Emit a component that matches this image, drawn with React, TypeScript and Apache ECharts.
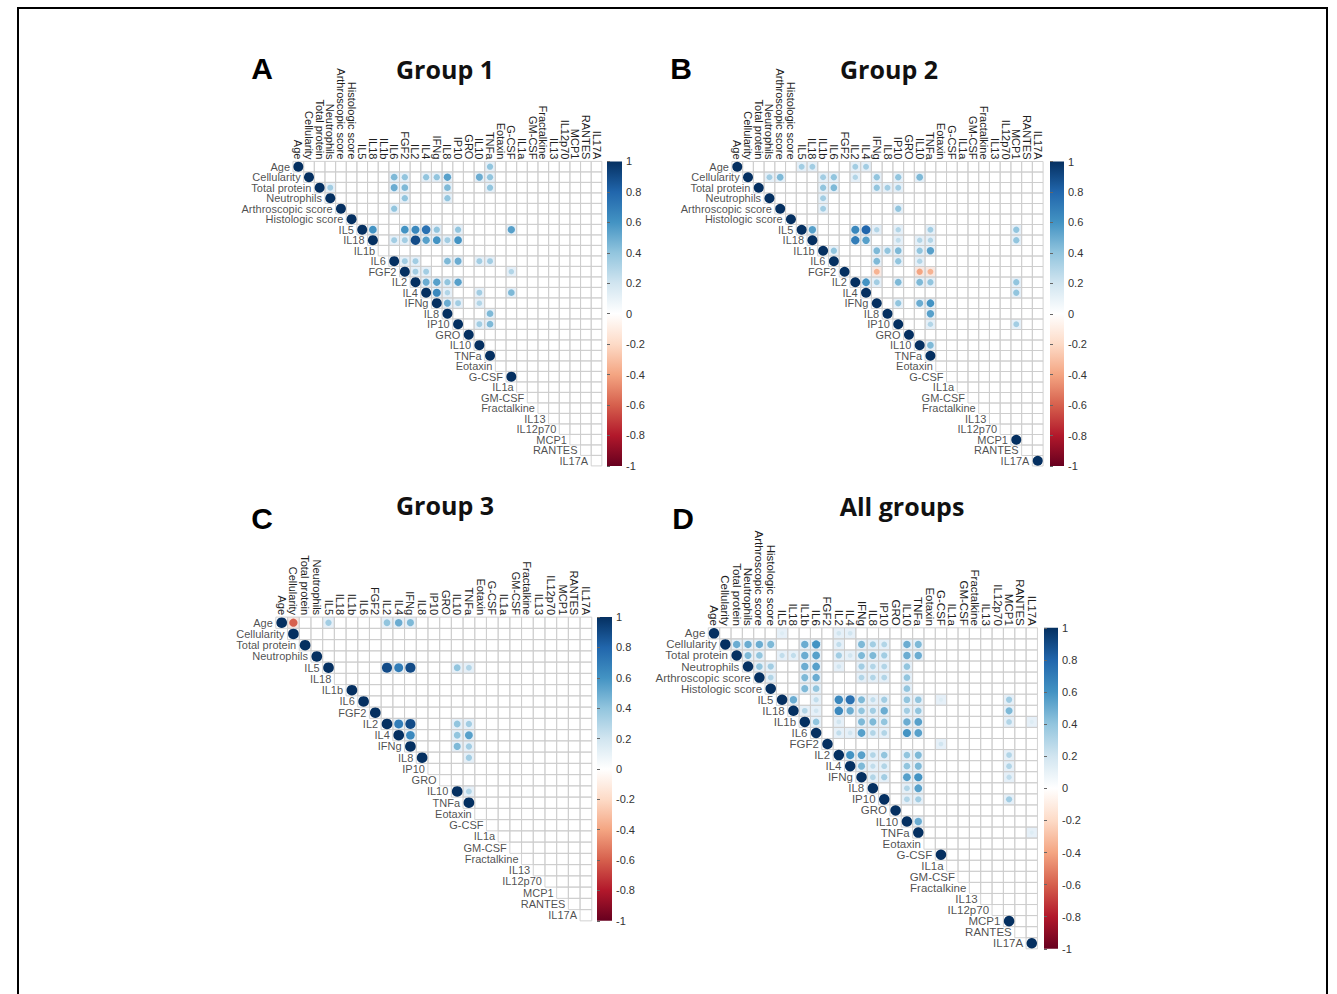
import React, { useEffect, useRef } from "react";
import * as echarts from "echarts";

// ---------- variables (axis categories) ----------
const variablesAll = ["Age", "Cellularity", "Total protein", "Neutrophils", "Arthroscopic score", "Histologic score", "IL5", "IL18", "IL1b", "IL6", "FGF2", "IL2", "IL4", "IFNg", "IL8", "IP10", "GRO", "IL10", "TNFa", "Eotaxin", "G-CSF", "IL1a", "GM-CSF", "Fractalkine", "IL13", "IL12p70", "MCP1", "RANTES", "IL17A"];
const variablesGroup3 = ["Age", "Cellularity", "Total protein", "Neutrophils", "IL5", "IL18", "IL1b", "IL6", "FGF2", "IL2", "IL4", "IFNg", "IL8", "IP10", "GRO", "IL10", "TNFa", "Eotaxin", "G-CSF", "IL1a", "GM-CSF", "Fractalkine", "IL13", "IL12p70", "MCP1", "RANTES", "IL17A"];

// ---------- diagonal entries shown (r = 1) ----------
const group1Diagonal = ["Age", "Cellularity", "Total protein", "Neutrophils", "Arthroscopic score", "Histologic score", "IL5", "IL18", "IL6", "FGF2", "IL2", "IL4", "IFNg", "IL8", "IP10", "GRO", "IL10", "TNFa", "G-CSF"];
const group2Diagonal = ["Age", "Cellularity", "Total protein", "Neutrophils", "Arthroscopic score", "Histologic score", "IL5", "IL18", "IL1b", "IL6", "FGF2", "IL2", "IL4", "IFNg", "IL8", "IP10", "GRO", "IL10", "TNFa", "MCP1", "IL17A"];
const group3Diagonal = ["Age", "Cellularity", "Total protein", "Neutrophils", "IL5", "IL1b", "IL6", "FGF2", "IL2", "IL4", "IFNg", "IL8", "IL10", "TNFa"];
const allGroupsDiagonal = ["Age", "Cellularity", "Total protein", "Neutrophils", "Arthroscopic score", "Histologic score", "IL5", "IL18", "IL1b", "IL6", "FGF2", "IL2", "IL4", "IFNg", "IL8", "IP10", "GRO", "IL10", "TNFa", "G-CSF", "MCP1", "IL17A"];

// ---------- significant correlations [row, column, r] ----------
const group1Corr: [string, string, number][] = [
  ["Age", "TNFa", 0.4],
  ["Cellularity", "IL6", 0.45], ["Cellularity", "FGF2", 0.4], ["Cellularity", "IL4", 0.4], ["Cellularity", "IFNg", 0.4], ["Cellularity", "IL8", 0.55], ["Cellularity", "IL10", 0.5], ["Cellularity", "TNFa", 0.4],
  ["Total protein", "Neutrophils", 0.35], ["Total protein", "IL6", 0.5], ["Total protein", "FGF2", 0.45], ["Total protein", "IL8", 0.45], ["Total protein", "TNFa", 0.4],
  ["Neutrophils", "FGF2", 0.4], ["Neutrophils", "IL8", 0.4],
  ["Arthroscopic score", "IL6", 0.4],
  ["IL5", "IL18", 0.6], ["IL5", "FGF2", 0.6], ["IL5", "IL2", 0.65], ["IL5", "IL4", 0.75], ["IL5", "IFNg", 0.4], ["IL5", "IP10", 0.4], ["IL5", "G-CSF", 0.55],
  ["IL18", "IL6", 0.35], ["IL18", "FGF2", 0.35], ["IL18", "IL2", 0.9], ["IL18", "IL4", 0.55], ["IL18", "IFNg", 0.6], ["IL18", "IL8", 0.35], ["IL18", "IP10", 0.6],
  ["IL6", "FGF2", 0.35], ["IL6", "IL2", 0.35], ["IL6", "IL8", 0.45], ["IL6", "IP10", 0.5], ["IL6", "IL10", 0.35], ["IL6", "TNFa", 0.35],
  ["FGF2", "IL2", 0.35], ["FGF2", "IL4", 0.35], ["FGF2", "G-CSF", 0.3],
  ["IL2", "IL4", 0.5], ["IL2", "IFNg", 0.55], ["IL2", "IL8", 0.4], ["IL2", "IP10", 0.55],
  ["IL4", "IFNg", 0.65], ["IL4", "IL8", 0.3], ["IL4", "IL10", 0.35], ["IL4", "G-CSF", 0.45],
  ["IFNg", "IL8", 0.5], ["IFNg", "IP10", 0.35], ["IFNg", "IL10", 0.3],
  ["IL8", "TNFa", 0.45],
  ["IP10", "IL10", 0.35], ["IP10", "TNFa", 0.45],
];

const group2Corr: [string, string, number][] = [
  ["Age", "IL5", 0.35], ["Age", "IL18", 0.35], ["Age", "IL2", 0.35], ["Age", "IL4", 0.35],
  ["Cellularity", "Neutrophils", 0.35], ["Cellularity", "Arthroscopic score", 0.45], ["Cellularity", "IL1b", 0.35], ["Cellularity", "IL6", 0.4], ["Cellularity", "IL2", 0.3], ["Cellularity", "IFNg", 0.4], ["Cellularity", "IP10", 0.4], ["Cellularity", "IL10", 0.45],
  ["Total protein", "IL1b", 0.4], ["Total protein", "IL6", 0.45], ["Total protein", "IFNg", 0.4], ["Total protein", "IL8", 0.35], ["Total protein", "IP10", 0.35],
  ["Neutrophils", "IL1b", 0.35],
  ["Arthroscopic score", "IL1b", 0.35], ["Arthroscopic score", "IP10", 0.4],
  ["IL5", "IL18", 0.55], ["IL5", "IL2", 0.65], ["IL5", "IL4", 0.8], ["IL5", "IFNg", 0.3], ["IL5", "IP10", 0.3], ["IL5", "TNFa", 0.35], ["IL5", "MCP1", 0.4],
  ["IL18", "IL2", 0.7], ["IL18", "IL4", 0.55], ["IL18", "IP10", 0.25], ["IL18", "IL10", 0.3], ["IL18", "TNFa", 0.3], ["IL18", "MCP1", 0.4],
  ["IL1b", "IL6", 0.4], ["IL1b", "IFNg", 0.45], ["IL1b", "IL8", 0.4], ["IL1b", "IP10", 0.45], ["IL1b", "IL10", 0.4], ["IL1b", "TNFa", 0.55],
  ["IL6", "IFNg", 0.45], ["IL6", "IP10", 0.4], ["IL6", "IL10", 0.3],
  ["FGF2", "IFNg", -0.35], ["FGF2", "IL10", -0.4], ["FGF2", "TNFa", -0.35],
  ["IL2", "IL4", 0.6], ["IL2", "IFNg", 0.35], ["IL2", "IP10", 0.45], ["IL2", "IL10", 0.45], ["IL2", "TNFa", 0.4], ["IL2", "MCP1", 0.4],
  ["IL4", "MCP1", 0.4],
  ["IFNg", "IP10", 0.4], ["IFNg", "IL10", 0.5], ["IFNg", "TNFa", 0.6],
  ["IL8", "TNFa", 0.55],
  ["IP10", "TNFa", 0.3], ["IP10", "MCP1", 0.35],
  ["IL10", "TNFa", 0.45],
];

const group3Corr: [string, string, number][] = [
  ["Age", "Cellularity", -0.6], ["Age", "IL5", 0.35], ["Age", "IL2", 0.4], ["Age", "IL4", 0.5], ["Age", "IFNg", 0.45],
  ["IL5", "IL2", 0.9], ["IL5", "IL4", 0.7], ["IL5", "IFNg", 0.9], ["IL5", "IL10", 0.4], ["IL5", "TNFa", 0.3],
  ["IL2", "IL4", 0.7], ["IL2", "IFNg", 0.9], ["IL2", "IL10", 0.4], ["IL2", "TNFa", 0.35],
  ["IL4", "IFNg", 0.65], ["IL4", "IL10", 0.4], ["IL4", "TNFa", 0.55],
  ["IFNg", "IL10", 0.45], ["IFNg", "TNFa", 0.35],
  ["IL8", "TNFa", 0.35],
  ["IL10", "TNFa", 0.3],
];

const allGroupsCorr: [string, string, number][] = [
  ["Age", "IL5", 0.15], ["Age", "IL2", 0.2], ["Age", "IL4", 0.2],
  ["Cellularity", "Total protein", 0.5], ["Cellularity", "Neutrophils", 0.5], ["Cellularity", "Arthroscopic score", 0.5], ["Cellularity", "Histologic score", 0.45], ["Cellularity", "IL1b", 0.5], ["Cellularity", "IL6", 0.6], ["Cellularity", "IL2", 0.25], ["Cellularity", "IFNg", 0.45], ["Cellularity", "IL8", 0.35], ["Cellularity", "IP10", 0.3], ["Cellularity", "IL10", 0.5], ["Cellularity", "TNFa", 0.45],
  ["Total protein", "Neutrophils", 0.45], ["Total protein", "Arthroscopic score", 0.4], ["Total protein", "IL5", 0.25], ["Total protein", "IL18", 0.25], ["Total protein", "IL1b", 0.5], ["Total protein", "IL6", 0.55], ["Total protein", "IL2", 0.35], ["Total protein", "IL4", 0.2], ["Total protein", "IFNg", 0.45], ["Total protein", "IL8", 0.45], ["Total protein", "IP10", 0.35], ["Total protein", "IL10", 0.5], ["Total protein", "TNFa", 0.5],
  ["Neutrophils", "Arthroscopic score", 0.4], ["Neutrophils", "Histologic score", 0.35], ["Neutrophils", "IL1b", 0.5], ["Neutrophils", "IL6", 0.55], ["Neutrophils", "IL2", 0.2], ["Neutrophils", "IFNg", 0.35], ["Neutrophils", "IL8", 0.3], ["Neutrophils", "IP10", 0.3], ["Neutrophils", "IL10", 0.4],
  ["Arthroscopic score", "Histologic score", 0.3], ["Arthroscopic score", "IL1b", 0.45], ["Arthroscopic score", "IL6", 0.5], ["Arthroscopic score", "IFNg", 0.3], ["Arthroscopic score", "IL8", 0.3], ["Arthroscopic score", "IP10", 0.3], ["Arthroscopic score", "IL10", 0.4],
  ["Histologic score", "IL1b", 0.45], ["Histologic score", "IL6", 0.4], ["Histologic score", "IL10", 0.4],
  ["IL5", "IL18", 0.5], ["IL5", "IL6", 0.25], ["IL5", "IL2", 0.65], ["IL5", "IL4", 0.75], ["IL5", "IFNg", 0.45], ["IL5", "IL8", 0.25], ["IL5", "IP10", 0.35], ["IL5", "IL10", 0.4], ["IL5", "TNFa", 0.4], ["IL5", "G-CSF", 0.15], ["IL5", "MCP1", 0.35],
  ["IL18", "IL1b", 0.3], ["IL18", "IL6", 0.2], ["IL18", "IL2", 0.65], ["IL18", "IL4", 0.5], ["IL18", "IFNg", 0.4], ["IL18", "IL8", 0.35], ["IL18", "IP10", 0.5], ["IL18", "IL10", 0.35], ["IL18", "TNFa", 0.4], ["IL18", "MCP1", 0.45],
  ["IL1b", "IL6", 0.4], ["IL1b", "IL2", 0.2], ["IL1b", "IFNg", 0.45], ["IL1b", "IL8", 0.45], ["IL1b", "IP10", 0.4], ["IL1b", "IL10", 0.5], ["IL1b", "TNFa", 0.55], ["IL1b", "MCP1", 0.3], ["IL1b", "IL17A", 0.15],
  ["IL6", "IL2", 0.25], ["IL6", "IL4", 0.2], ["IL6", "IFNg", 0.55], ["IL6", "IL8", 0.3], ["IL6", "IP10", 0.3], ["IL6", "IL10", 0.6], ["IL6", "TNFa", 0.55],
  ["FGF2", "G-CSF", 0.2],
  ["IL2", "IL4", 0.6], ["IL2", "IFNg", 0.55], ["IL2", "IL8", 0.3], ["IL2", "IP10", 0.4], ["IL2", "IL10", 0.4], ["IL2", "TNFa", 0.45], ["IL2", "MCP1", 0.3],
  ["IL4", "IFNg", 0.45], ["IL4", "IL8", 0.25], ["IL4", "IP10", 0.3], ["IL4", "IL10", 0.4], ["IL4", "TNFa", 0.45], ["IL4", "MCP1", 0.3],
  ["IFNg", "IL8", 0.3], ["IFNg", "IP10", 0.35], ["IFNg", "IL10", 0.55], ["IFNg", "TNFa", 0.6], ["IFNg", "MCP1", 0.25],
  ["IL8", "IL10", 0.3], ["IL8", "TNFa", 0.55],
  ["IP10", "IL10", 0.3], ["IP10", "TNFa", 0.35], ["IP10", "MCP1", 0.35],
  ["IL10", "TNFa", 0.5],
  ["TNFa", "IL17A", 0.15],
];

// ---------- panel texts ----------
const panelLetters = ["A", "B", "C", "D"];
const panelTitles = ["Group 1", "Group 2", "Group 3", "All groups"];

// ---------- colours ----------
const rdBu = ["#67001F", "#B2182B", "#D6604D", "#F4A582", "#FDDBC7", "#FFFFFF", "#D1E5F0", "#92C5DE", "#4393C3", "#2166AC", "#053061"];

// ---------- layout (pixels) ----------
const layout = [
  { grid: { left: 293, top: 161.4, width: 308.85, height: 304.5 }, bar: { left: 607, top: 161.4, width: 15, height: 304.5 }, font: 11, letter: [262, 68], title: [445, 69] },
  { grid: { left: 731.9, top: 161.5, width: 311.2, height: 304.5 }, bar: { left: 1050, top: 161.5, width: 14, height: 304.5 }, font: 11, letter: [681, 68], title: [889, 69] },
  { grid: { left: 275.85, top: 617.1, width: 315.9, height: 303.75 }, bar: { left: 597, top: 617.1, width: 15, height: 303.75 }, font: 11, letter: [262, 518], title: [445, 505] },
  { grid: { left: 708.3, top: 627.8, width: 329.15, height: 321 }, bar: { left: 1044, top: 627.8, width: 14, height: 321 }, font: 11.5, letter: [683, 518], title: [902, 506] },
];

const panelData = [
  { vars: variablesAll, diag: group1Diagonal, corr: group1Corr },
  { vars: variablesAll, diag: group2Diagonal, corr: group2Corr },
  { vars: variablesGroup3, diag: group3Diagonal, corr: group3Corr },
  { vars: variablesAll, diag: allGroupsDiagonal, corr: allGroupsCorr },
];

const FONT = '"Liberation Sans", Arial, sans-serif';
const LABEL_COLOR = "#1e1e1e";

function buildOption() {
  const grid: any[] = [];
  const xAxis: any[] = [];
  const yAxis: any[] = [];
  const series: any[] = [];
  const circleSeries: number[] = [];
  const graphic: any[] = [];

  panelData.forEach((pd, k) => {
    const lay = layout[k];
    const n = pd.vars.length;
    const cw = lay.grid.width / n;
    const ch = lay.grid.height / n;
    const cmin = Math.min(cw, ch);
    const idx = (v: string) => pd.vars.indexOf(v);

    const gi = grid.length;
    grid.push({ ...lay.grid });
    xAxis.push({
      type: "category", gridIndex: gi, data: pd.vars, position: "top", boundaryGap: true,
      axisLine: { show: false }, axisTick: { show: false }, splitLine: { show: false },
      axisLabel: { rotate: 90, interval: 0, fontSize: lay.font, margin: 2, color: LABEL_COLOR, fontFamily: FONT },
    });
    yAxis.push({ type: "category", gridIndex: gi, data: pd.vars, inverse: true, show: false });

    const cells: number[][] = [];
    for (let r = 0; r < n; r++) for (let c = r; c < n; c++) cells.push([c, r]);

    const corr: number[][] = [
      ...pd.diag.map((v) => [idx(v), idx(v), 1]),
      ...pd.corr.map(([row, col, val]) => [idx(col), idx(row), val]),
    ];

    // soft halo behind each coloured cell
    series.push({
      type: "custom", xAxisIndex: gi, yAxisIndex: gi, silent: true, data: corr.filter((d) => d[0] !== d[1]),
      renderItem: (_p: any, api: any) => {
        const pt = api.coord([api.value(0), api.value(1)]);
        const s = api.size([1, 1]);
        const v = api.value(2);
        return {
          type: "rect",
          shape: { x: pt[0] - s[0] / 2, y: pt[1] - s[1] / 2, width: s[0], height: s[1] },
          style: { fill: v >= 0 ? "#e6f0f8" : "#f8e8e2", stroke: "none" },
        };
      },
    });
    // upper-triangle grid
    series.push({
      type: "custom", xAxisIndex: gi, yAxisIndex: gi, silent: true, data: cells,
      renderItem: (_p: any, api: any) => {
        const pt = api.coord([api.value(0), api.value(1)]);
        const s = api.size([1, 1]);
        return {
          type: "rect",
          shape: { x: pt[0] - s[0] / 2, y: pt[1] - s[1] / 2, width: s[0], height: s[1] },
          style: { fill: "none", stroke: "#cdcdcd", lineWidth: 0.9 },
        };
      },
    });
    // circles
    circleSeries.push(series.length);
    series.push({
      type: "scatter", xAxisIndex: gi, yAxisIndex: gi, silent: true, data: corr,
      symbol: "circle",
      symbolSize: (val: number[]) => Math.sqrt(Math.abs(val[2])) * cmin * 0.95,
      itemStyle: { opacity: 1 },
      emphasis: { disabled: true },
    });
    // row labels beside the diagonal
    series.push({
      type: "scatter", xAxisIndex: gi, yAxisIndex: gi, silent: true,
      data: pd.vars.map((v, i) => ({ name: v, value: [i, i] })),
      symbol: "rect", symbolSize: [cw, ch],
      itemStyle: { color: "rgba(0,0,0,0)" },
      emphasis: { disabled: true },
      label: { show: true, position: "left", distance: 3, formatter: "{b}", fontSize: lay.font, color: LABEL_COLOR, fontFamily: FONT },
    });

    // colour bar
    const bi = grid.length;
    grid.push({
      ...lay.bar, show: true, borderWidth: 0,
      backgroundColor: new echarts.graphic.LinearGradient(0, 0, 0, 1,
        rdBu.slice().reverse().map((c, i) => ({ offset: i / (rdBu.length - 1), color: c }))),
    });
    xAxis.push({ type: "value", gridIndex: bi, show: false, min: 0, max: 1 });
    yAxis.push({
      type: "value", gridIndex: bi, min: -1, max: 1, interval: 0.2, position: "right",
      axisLine: { show: false }, splitLine: { show: false },
      axisTick: { show: true, length: 3, lineStyle: { color: "#666" } },
      axisLabel: { margin: 4, fontSize: 11, color: "#333", fontFamily: FONT, formatter: (v: number) => String(Math.round(v * 10) / 10) },
    });

    graphic.push({
      type: "text", x: lay.letter[0], y: lay.letter[1], silent: true,
      style: { text: panelLetters[k], font: 'bold 30px "Liberation Sans", Arial, sans-serif', fill: "#000", textAlign: "center", textVerticalAlign: "middle" },
    });
    graphic.push({
      type: "text", x: lay.title[0], y: lay.title[1], silent: true,
      style: { text: panelTitles[k], font: 'bold 25px "Open Sans", sans-serif', fill: "#111", textAlign: "center", textVerticalAlign: "middle" },
    });
  });

  graphic.push({
    type: "rect", silent: true,
    shape: { x: 18, y: 8, width: 1309, height: 1010 },
    style: { fill: "none", stroke: "#000", lineWidth: 2 },
  });

  return {
    animation: false,
    backgroundColor: "#fff",
    grid, xAxis, yAxis, series, graphic,
    visualMap: [{
      type: "continuous", show: false, min: -1, max: 1, dimension: 2,
      seriesIndex: circleSeries, inRange: { color: rdBu },
    }],
  };
}

export default function App() {
  const ref = useRef<HTMLDivElement>(null);
  useEffect(() => {
    if (!ref.current) return;
    const chart = echarts.init(ref.current, undefined, { renderer: "svg" });
    chart.setOption(buildOption());
    return () => chart.dispose();
  }, []);
  return (
    <div
      ref={ref}
      style={{ position: "absolute", left: 0, top: 0, width: 1337, height: 994, background: "#fff" }}
    />
  );
}
